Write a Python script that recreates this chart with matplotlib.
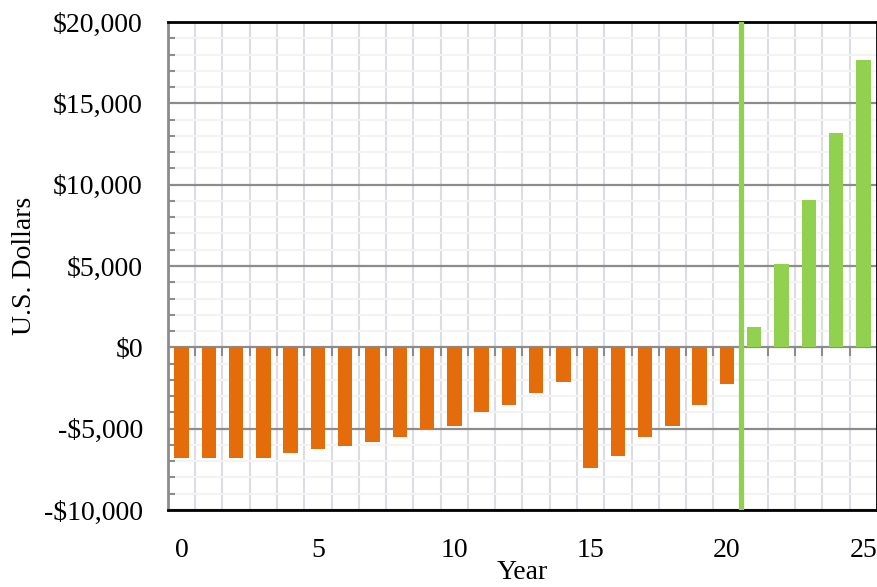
import numpy as np
import matplotlib
matplotlib.use("Agg")
import matplotlib.pyplot as plt
from matplotlib.ticker import FuncFormatter, MultipleLocator

# yearly cash flow
years = list(range(26))
cash_flow = [-6800, -6800, -6800, -6800, -6500, -6250, -6050, -5850, -5500, -5050,
             -4850, -3970, -3540, -2790, -2130, -7440, -6700, -5510, -4830, -3540,
             -2230, 1270, 5120, 9080, 13200, 17680]
payback_year = 20.5
x_ticks = [0, 5, 10, 15, 20, 25]

orange = "#E46C0A"
green = "#92D050"

plt.rcParams["font.family"] = ["Liberation Serif", "DejaVu Serif"]

fig = plt.figure(figsize=(8.78, 5.87), dpi=100)
ax = fig.add_axes([0.1913, 0.1312, 0.8075, 0.8313])

colors = [orange if v < 0 else green for v in cash_flow]
ax.bar(years, cash_flow, width=0.53, color=colors, zorder=3)

ax.set_xlim(-0.5, 25.5)
ax.set_ylim(-10000, 20000)

# grid: light verticals between the years, dark horizontal every 5000, light every 1000
for xv in np.arange(0.5, 25.5, 1):
    ax.axvline(xv, color="#dcdde3", lw=1.5, zorder=1)
for yv in range(-10000, 20001, 1000):
    if yv % 5000 == 0:
        ax.axhline(yv, color="#8c8c8c", lw=1.6, zorder=2)
    else:
        ax.axhline(yv, color="#f3f3f3", lw=1.5, zorder=1)

# small tick marks hanging off the zero line
ax.vlines(np.arange(0.5, 25.5, 1), -550, 0, color="#8c8c8c", lw=1.5, zorder=2)

# payback marker
ax.axvline(payback_year, color=green, lw=3.8, zorder=4)

ax.set_xticks(x_ticks)
ax.tick_params(axis="x", length=0, pad=20, labelsize=20)
ax.yaxis.set_major_locator(MultipleLocator(5000))
ax.yaxis.set_minor_locator(MultipleLocator(1000))
ax.yaxis.set_major_formatter(FuncFormatter(
    lambda v, p: ("-$" if v < 0 else "$") + format(int(abs(v)), ",")))
ax.tick_params(axis="y", which="major", length=0, pad=18, labelsize=20)
ax.tick_params(axis="y", which="minor", direction="in", length=5, width=1.5,
               color="#8c8c8c")

for s in ["top", "bottom", "right"]:
    ax.spines[s].set_color("black")
    ax.spines[s].set_linewidth(2)
ax.spines["left"].set_color("#8c8c8c")
ax.spines["left"].set_linewidth(2)

ax.set_xlabel("Year", fontsize=20, labelpad=-2)
ax.set_ylabel("U.S. Dollars", fontsize=20, labelpad=5)

fig.savefig("out.png", dpi=100)
